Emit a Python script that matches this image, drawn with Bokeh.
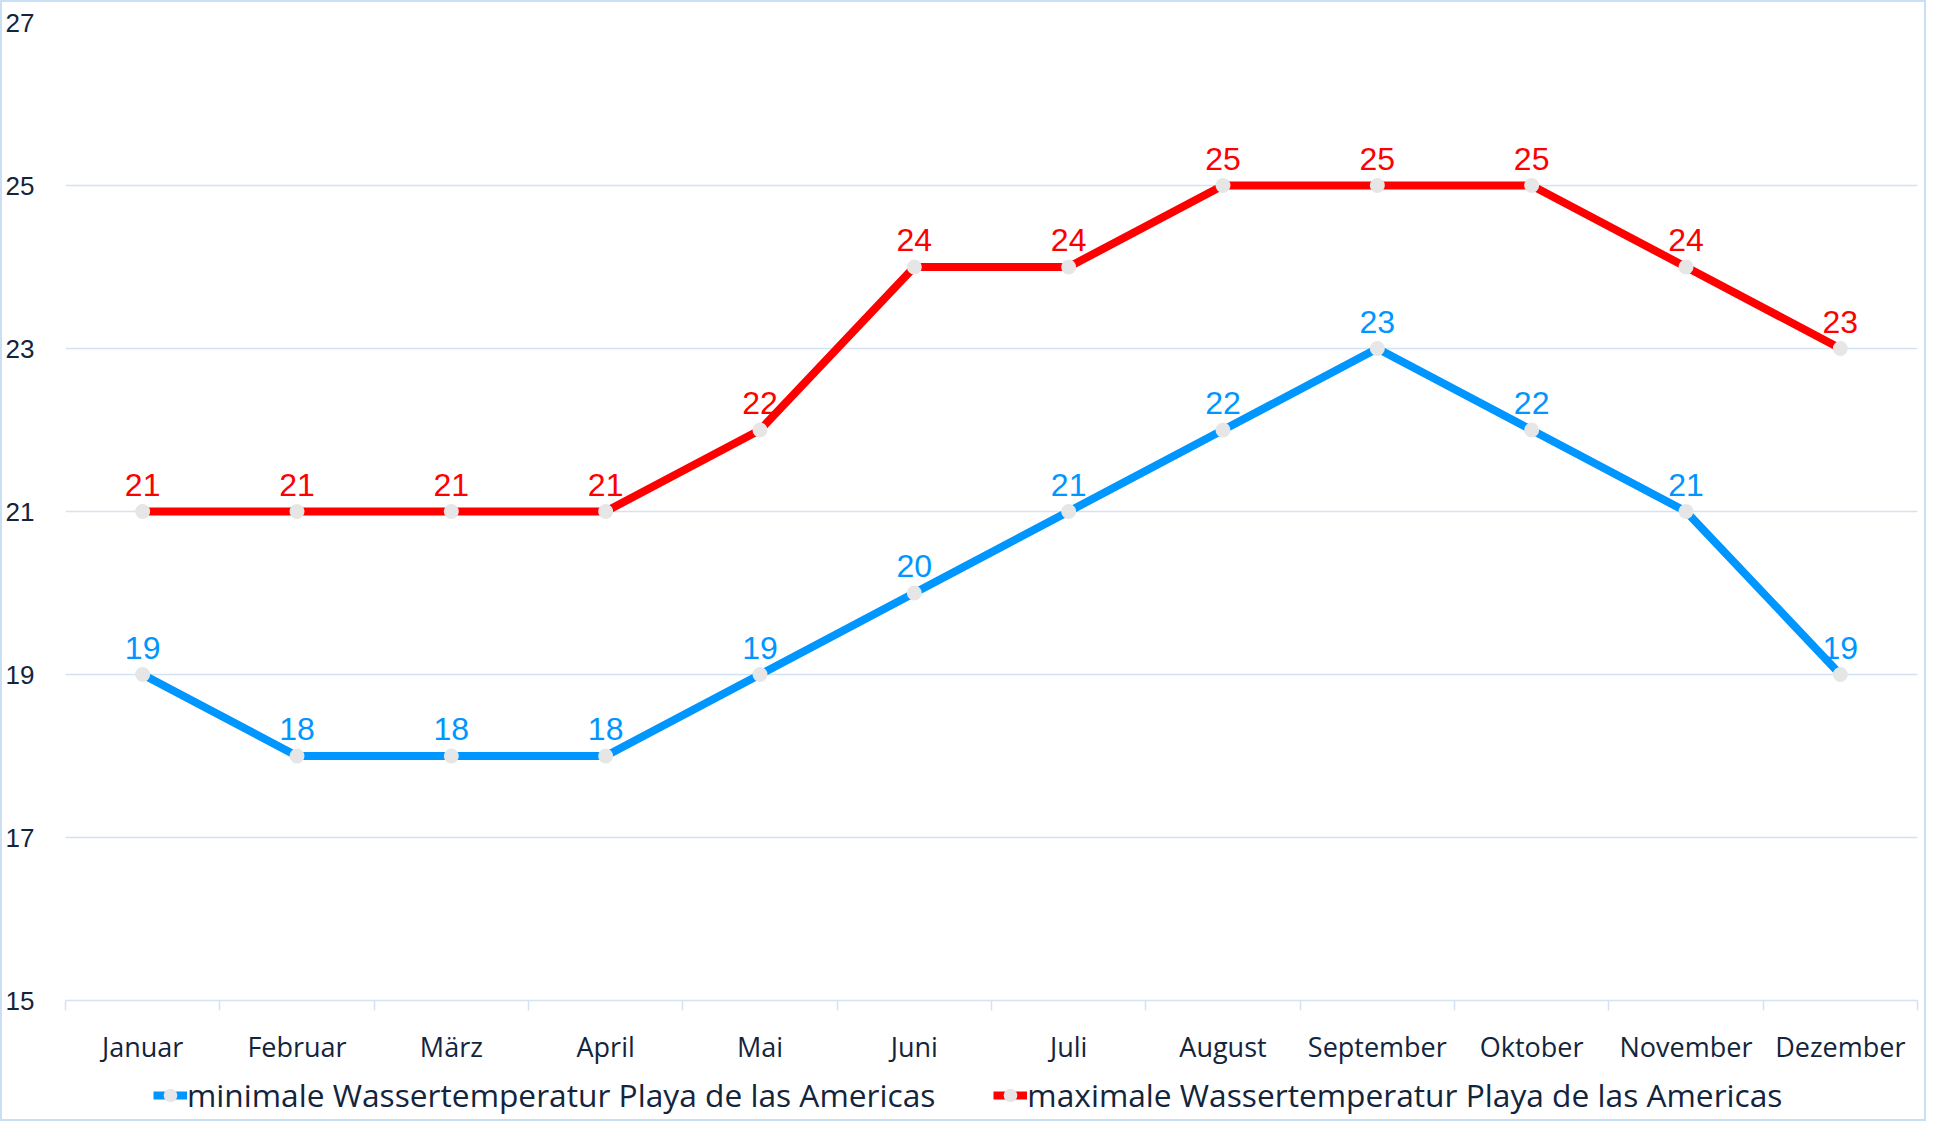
from bokeh.plotting import figure
from bokeh.layouts import column
from bokeh.models import FixedTicker, Legend, LegendItem, ColumnDataSource, Range1d
from bokeh.core.properties import value
from bokeh.embed import file_html
from bokeh.resources import INLINE

months = ["Januar", "Februar", "März", "April", "Mai", "Juni", "Juli",
          "August", "September", "Oktober", "November", "Dezember"]
min_temp = [19, 18, 18, 18, 19, 20, 21, 22, 23, 22, 21, 19]
max_temp = [21, 21, 21, 21, 22, 24, 24, 25, 25, 25, 24, 23]
y_ticks = [15, 17, 19, 21, 23, 25, 27]
series_names = ["minimale Wassertemperatur Playa de las Americas",
                "maximale Wassertemperatur Playa de las Americas"]

BLUE = "#0096ff"
RED = "#ff0000"
GRID = "#d3e3f4"
DARK = "#13253d"
MARKER = "#e6e6e6"

xs = [i + 0.5 for i in range(len(months))]

p = figure(width=1922, height=1070, output_backend="svg", toolbar_location=None,
           x_range=Range1d(0, len(months)), y_range=Range1d(15, 27),
           min_border_left=55, min_border_right=7, min_border_top=20, min_border_bottom=72)
p.outline_line_color = None
p.background_fill_color = "white"
p.border_fill_color = "white"

# y axis
p.yaxis.ticker = FixedTicker(ticks=y_ticks)
p.yaxis.axis_line_color = None
p.yaxis.major_tick_line_color = None
p.yaxis.minor_tick_line_color = None
p.yaxis.major_label_standoff = 25
p.yaxis.major_label_text_font = "Liberation Sans"
p.yaxis.major_label_text_font_size = "26px"
p.yaxis.major_label_text_color = DARK
p.ygrid.ticker = FixedTicker(ticks=y_ticks)
p.ygrid.grid_line_color = GRID
p.ygrid.grid_line_width = 1.5
p.xgrid.grid_line_color = None

# x axis
p.xaxis.ticker = FixedTicker(ticks=xs, minor_ticks=list(range(len(months) + 1)))
p.xaxis.major_label_overrides = {x: m for x, m in zip(xs, months)}
p.xaxis.axis_line_color = GRID
p.xaxis.axis_line_width = 1.5
p.xaxis.major_tick_line_color = None
p.xaxis.minor_tick_line_color = GRID
p.xaxis.minor_tick_line_width = 1.5
p.xaxis.minor_tick_out = 10
p.xaxis.minor_tick_in = 0
p.xaxis.major_tick_out = 0
p.xaxis.major_tick_in = 0
p.xaxis.major_label_standoff = 17
p.xaxis.major_label_text_font = "Open Sans"
p.xaxis.major_label_text_font_size = "27px"
p.xaxis.major_label_text_color = DARK

# legend strip below the chart (separate figure, same glyph styles)
lg = figure(width=1922, height=47, output_backend="svg", toolbar_location=None,
            x_axis_type=None, y_axis_type=None,
            x_range=Range1d(100, 101), y_range=Range1d(100, 101),
            min_border_left=55, min_border_right=7, min_border_top=0, min_border_bottom=0)
lg.outline_line_color = None
lg.grid.grid_line_color = None
lg.background_fill_color = "white"
lg.border_fill_color = "white"

items = []
for vals, color, name in [(min_temp, BLUE, series_names[0]), (max_temp, RED, series_names[1])]:
    src = ColumnDataSource(dict(x=xs, y=vals, label=[str(v) for v in vals]))
    p.line("x", "y", source=src, line_color=color, line_width=8)
    p.scatter("x", "y", source=src, size=15, fill_color=MARKER, line_color=None)
    p.text("x", "y", text="label", source=src, text_align="center", text_baseline="bottom",
           y_offset=-16, text_color=color, text_font=value("Liberation Sans"),
           text_font_size="32px")
    ln = lg.line("x", "y", source=src, line_color=color, line_width=8)
    sc = lg.scatter("x", "y", source=src, size=15, fill_color=MARKER, line_color=None)
    items.append(LegendItem(label=name, renderers=[ln, sc]))

legend = Legend(items=items, orientation="horizontal", location=(88, 3),
                glyph_width=34, glyph_height=36, label_standoff=0, spacing=58,
                padding=0, margin=0, border_line_color=None, background_fill_alpha=0,
                label_text_font="Open Sans", label_text_font_size="31.7px",
                label_text_color=DARK, label_text_baseline="middle")
lg.add_layout(legend, "center")

layout = column(p, lg, spacing=0)
layout.styles = {"border": "2px solid #cadff3", "width": "fit-content"}

open("out.html", "w").write(file_html(layout, INLINE))
